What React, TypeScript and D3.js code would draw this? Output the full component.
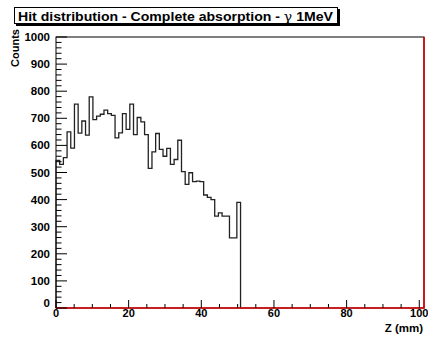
import React from 'react';
import * as d3 from 'd3';

// histogram contents, 50 bins from 0 to 50.8 mm
const counts = [
  545, 530, 555, 650, 590, 752, 645, 690, 638, 779,
  695, 708, 715, 730, 717, 711, 628, 646, 717, 659,
  752, 640, 703, 687, 640, 515, 576, 644, 585, 560,
  589, 530, 548, 619, 503, 456, 499, 466, 468, 466,
  417, 408, 400, 339, 351, 339, 339, 259, 259, 390,
];
const histLow = 0;
const histHigh = 50.8;
const xTicks = [0, 20, 40, 60, 80, 100];
const yTicks = [0, 100, 200, 300, 400, 500, 600, 700, 800, 900, 1000];
const title = 'Hit distribution - Complete absorption - ';
const xTitle = 'Z (mm)';
const yTitle = 'Counts';

const W = 428;
const H = 340;
const margin = { top: 37, right: 4, bottom: 32, left: 56 };
const font = "'Liberation Sans', Arial, Helvetica, sans-serif";

const App = () => {
  const innerW = W - margin.left - margin.right;
  const innerH = H - margin.top - margin.bottom;

  const x = d3.scaleLinear().domain([0, 101.3]).range([0, innerW]);
  const y = d3.scaleLinear().domain([0, 1000]).range([innerH, 0]);

  const binW = (histHigh - histLow) / counts.length;
  const pts: [number, number][] = [[histLow, 0]];
  counts.forEach((c, i) => {
    pts.push([histLow + i * binW, c]);
    pts.push([histLow + (i + 1) * binW, c]);
  });
  pts.push([histHigh, 0]);

  const line = d3.line<[number, number]>()
    .x(d => x(d[0]))
    .y(d => y(d[1]));

  const yMinor = d3.range(0, 1001, 20);
  const xMinor = d3.range(0, 101, 5);

  return (
    <svg width={W} height={H} style={{ position: 'absolute', left: 0, top: 0, background: '#fff' }}>
      {/* title box with shadow */}
      <rect x={16} y={9} width={324} height={17} fill="#000" />
      <rect x={14.5} y={7.5} width={323} height={16} fill="#fff" stroke="#000" strokeWidth={1} />
      <text x={18} y={20.5} fontFamily={font} fontWeight="bold" fontSize={13} textLength={315} lengthAdjust="spacingAndGlyphs">
        {title}
        <tspan fontFamily="'DejaVu Serif', 'Liberation Serif', serif" fontWeight="normal">γ</tspan>
        <tspan> 1MeV</tspan>
      </text>

      <g transform={`translate(${margin.left},${margin.top})`}>
        {/* frame */}
        <rect x={0} y={0} width={innerW} height={innerH} fill="none" stroke="#000" strokeWidth={1} />

        {/* histogram */}
        <path d={line(pts) || ''} fill="none" stroke="#222" strokeWidth={1.3} />

        {/* empty red histogram along bottom and right */}
        <path d={`M0,${innerH}H${innerW}V0`} fill="none" stroke="#e00000" strokeWidth={1.6} />

        {/* Y axis */}
        {yMinor.map(t => (
          <line key={`ym${t}`} x1={0} x2={t % 100 === 0 ? 11 : 5.5} y1={y(t)} y2={y(t)} stroke="#000" strokeWidth={1} />
        ))}
        {yTicks.map(t => (
          <text key={`yl${t}`} x={-6} y={y(t) + (t === 0 ? -1 : 4)} textAnchor="end"
            fontFamily={font} fontWeight="bold" fontSize={11.5}>{t}</text>
        ))}
        <text transform={`translate(-37,-8) rotate(-90)`} textAnchor="end"
          fontFamily={font} fontWeight="bold" fontSize={11}>{yTitle}</text>

        {/* X axis */}
        {xMinor.map(t => (
          <line key={`xm${t}`} y1={innerH} y2={innerH - (t % 20 === 0 ? 8 : 4)} x1={x(t)} x2={x(t)} stroke="#000" strokeWidth={1} />
        ))}
        {xTicks.map(t => (
          <text key={`xl${t}`} x={x(t)} y={innerH + 9} textAnchor="middle"
            fontFamily={font} fontWeight="bold" fontSize={11}>{t}</text>
        ))}
        <text x={innerW - 1} y={innerH + 23.5} textAnchor="end"
          fontFamily={font} fontWeight="bold" fontSize={11.5}>{xTitle}</text>
      </g>
    </svg>
  );
};

export default App;
